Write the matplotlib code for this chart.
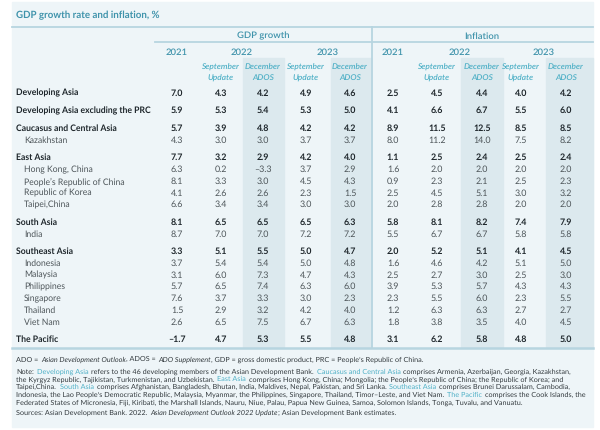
import matplotlib
matplotlib.use("Agg")
import matplotlib.pyplot as plt
from matplotlib.patches import Rectangle

plt.rcParams['font.family'] = ['Lato', 'DejaVu Sans']
plt.rcParams['text.hinting'] = 'no_hinting'

# ---- data ----
title = "GDP growth rate and inflation, %"
groups = ["GDP growth", "Inflation"]
years = ["2021", "2022", "2023"]
sub_left = ["September", "Update"]
sub_right = ["December", "ADOS"]

regions = ["Developing Asia", "Developing Asia excluding the PRC",
           "Caucasus and Central Asia", "Kazakhstan",
           "East Asia", "Hong Kong, China", "People\u2019s Republic of China",
           "Republic of Korea", "Taipei,China",
           "South Asia", "India",
           "Southeast Asia", "Indonesia", "Malaysia", "Philippines",
           "Singapore", "Thailand", "Viet Nam",
           "The Pacific"]
is_group = [1, 1, 1, 0, 1, 0, 0, 0, 0, 1, 0, 1, 0, 0, 0, 0, 0, 0, 1]

gdp_2021 = [7.0, 5.9, 5.7, 4.3, 7.7, 6.3, 8.1, 4.1, 6.6, 8.1, 8.7,
            3.3, 3.7, 3.1, 5.7, 7.6, 1.5, 2.6, -1.7]
gdp_2022_sep = [4.3, 5.3, 3.9, 3.0, 3.2, 0.2, 3.3, 2.6, 3.4, 6.5, 7.0,
                5.1, 5.4, 6.0, 6.5, 3.7, 2.9, 6.5, 4.7]
gdp_2022_dec = [4.2, 5.4, 4.8, 3.0, 2.9, -3.3, 3.0, 2.6, 3.4, 6.5, 7.0,
                5.5, 5.4, 7.3, 7.4, 3.3, 3.2, 7.5, 5.3]
gdp_2023_sep = [4.9, 5.3, 4.2, 3.7, 4.2, 3.7, 4.5, 2.3, 3.0, 6.5, 7.2,
                5.0, 5.0, 4.7, 6.3, 3.0, 4.2, 6.7, 5.5]
gdp_2023_dec = [4.6, 5.0, 4.2, 3.7, 4.0, 2.9, 4.3, 1.5, 3.0, 6.3, 7.2,
                4.7, 4.8, 4.3, 6.0, 2.3, 4.0, 6.3, 4.8]
inf_2021 = [2.5, 4.1, 8.9, 8.0, 1.1, 1.6, 0.9, 2.5, 2.0, 5.8, 5.5,
            2.0, 1.6, 2.5, 3.9, 2.3, 1.2, 1.8, 3.1]
inf_2022_sep = [4.5, 6.6, 11.5, 11.2, 2.5, 2.0, 2.3, 4.5, 2.8, 8.1, 6.7,
                5.2, 4.6, 2.7, 5.3, 5.5, 6.3, 3.8, 6.2]
inf_2022_dec = [4.4, 6.7, 12.5, 14.0, 2.4, 2.0, 2.1, 5.1, 2.8, 8.2, 6.7,
                5.1, 4.2, 3.0, 5.7, 6.0, 6.3, 3.5, 5.8]
inf_2023_sep = [4.0, 5.5, 8.5, 7.5, 2.5, 2.0, 2.5, 3.0, 2.0, 7.4, 5.8,
                4.1, 5.1, 2.5, 4.3, 2.3, 2.7, 4.0, 4.8]
inf_2023_dec = [4.2, 6.0, 8.5, 8.2, 2.4, 2.0, 2.3, 3.2, 2.0, 7.9, 5.8,
                4.5, 5.0, 3.0, 4.3, 5.5, 2.7, 4.5, 5.0]

columns = [gdp_2021, gdp_2022_sep, gdp_2022_dec, gdp_2023_sep, gdp_2023_dec,
           inf_2021, inf_2022_sep, inf_2022_dec, inf_2023_sep, inf_2023_dec]

N, T, I = "n", "t", "i"   # normal, teal highlight, italic
footnotes = [
    [("ADO = ", N), ("Asian Development Outlook", I), (", ADOS = ", N),
     ("ADO Supplement", I),
     (", GDP = gross domestic product, PRC = People\u2019s Republic of China.", N)],
    [("Note: ", N), ("Developing Asia", T),
     (" refers to the 46 developing members of the Asian Development Bank. ", N),
     ("Caucasus and Central Asia", T),
     (" comprises Armenia, Azerbaijan, Georgia, Kazakhstan,", N)],
    [("the Kyrgyz Republic, Tajikistan, Turkmenistan, and Uzbekistan. ", N),
     ("East Asia", T),
     (" comprises Hong Kong, China; Mongolia; the People\u2019s Republic of China; "
      "the Republic of Korea; and", N)],
    [("Taipei,China. ", N), ("South Asia", T),
     (" comprises Afghanistan, Bangladesh, Bhutan, India, Maldives, Nepal, "
      "Pakistan, and Sri Lanka. ", N),
     ("Southeast Asia", T), (" comprises Brunei Darussalam, Cambodia,", N)],
    [("Indonesia, the Lao People\u2019s Democratic Republic, Malaysia, Myanmar, "
      "the Philippines, Singapore, Thailand, Timor\u2013Leste, and Viet Nam. ", N),
     ("The Pacific", T), (" comprises the Cook Islands, the", N)],
    [("Federated States of Micronesia, Fiji, Kiribati, the Marshall Islands, "
      "Nauru, Niue, Palau, Papua New Guinea, Samoa, Solomon Islands, Tonga, "
      "Tuvalu, and Vanuatu.", N)],
    [("Sources: Asian Development Bank. 2022. ", N),
     ("Asian Development Outlook 2022 Update", I),
     ("; Asian Development Bank estimates.", N)],
]

# ---- style ----
TEAL = "#3f93ab"
TEAL_LIGHT = "#4fb0c6"
LINE = "#b7d5e0"
PANEL = "#eef5f8"
SHADE = "#dce9ee"
DARK = "#1e262b"
GREY = "#4d5559"
FOOT = "#333a3e"
FOOT_SIZE = 5.2


def fmt(v):
    return ("\u2013%.1f" % -v) if v < 0 else "%.1f" % v


fig = plt.figure(figsize=(6.0, 4.31), dpi=100)
ax = fig.add_axes([0, 0, 1, 1])
ax.set_xlim(0, 600)
ax.set_ylim(431, 0)
ax.axis("off")

ax.add_patch(Rectangle((12, 3), 581, 425, color=PANEL, zorder=0))

col_x = [177, 221, 263, 306, 350, 393, 437, 482, 521, 566]
shade_spans = [(243, 284), (331, 371), (461, 503), (546, 593)]
for x0, x1 in shade_spans:
    ax.add_patch(Rectangle((x0, 59), x1 - x0, 290, color=SHADE, zorder=1))

# lines
ax.plot([12, 593], [28, 28], color=LINE, lw=1.3, zorder=2)
ax.plot([155, 593], [43, 43], color=LINE, lw=1.3, zorder=2)
ax.plot([372, 372], [28, 349], color=LINE, lw=1.3, zorder=2)
ax.plot([12, 593], [349, 349], color=LINE, lw=1.8, zorder=2)

ax.text(16, 15, title, color=TEAL, fontsize=7.0, fontweight="bold", va="center")

# header
ax.text(263, 36, groups[0], color=TEAL, fontsize=6.8, fontweight="semibold",
        ha="center", va="center")
ax.text(482, 36, groups[1], color=TEAL, fontsize=6.8, fontweight="semibold",
        ha="center", va="center")
for k in range(2):
    c = col_x[5 * k:5 * k + 5]
    ax.text(c[0], 52, years[0], color=TEAL, fontsize=6.8, fontweight="semibold",
            ha="center", va="center")
    ax.text((c[1] + c[2]) / 2, 52, years[1], color=TEAL, fontsize=6.8,
            fontweight="semibold", ha="center", va="center")
    ax.text((c[3] + c[4]) / 2, 52, years[2], color=TEAL, fontsize=6.8,
            fontweight="semibold", ha="center", va="center")
    for j in (1, 3):
        for line, yy in zip(sub_left, (67, 78)):
            ax.text(c[j], yy, line, color=TEAL_LIGHT, fontsize=6.0,
                    style="italic", fontweight="semibold", ha="center", va="center")
    for j in (2, 4):
        for line, yy in zip(sub_right, (67, 78)):
            ax.text(c[j], yy, line, color=TEAL_LIGHT, fontsize=6.0,
                    style="italic", fontweight="semibold", ha="center", va="center")

# body
y = 93.0
for i, name in enumerate(regions):
    if i > 0:
        y += 17.7 if is_group[i] else 11.7
    bold = bool(is_group[i])
    color = DARK if bold else GREY
    weight = "bold" if bold else "normal"
    ax.text(16 if bold else 24, y, name, color=color, fontsize=6.2,
            fontweight=weight, va="center")
    for cx, col in zip(col_x, columns):
        ax.text(cx, y, fmt(col[i]), color=color, fontsize=6.4,
                fontweight=weight, ha="center", va="center")

# footnotes with mixed styles, placed piece by piece
renderer = fig.canvas.get_renderer()
inv = ax.transData.inverted()


def width_of(s):
    t = ax.text(0, 0, s, fontsize=FOOT_SIZE)
    bb = t.get_window_extent(renderer)
    t.remove()
    return bb.width


# ink extents drop side bearings, so pad the measured space a little
space_w = width_of("n n") - width_of("nn") + 1.0

foot_y = [359.5, 371.5, 379.3, 387.1, 394.9, 402.7, 413]
for parts, fy in zip(footnotes, foot_y):
    x = 16
    for s, kind in parts:
        lead = len(s) - len(s.lstrip(" "))
        trail = len(s) - len(s.rstrip(" "))
        x += lead * space_w
        t = ax.text(x, fy, s.strip(" "), fontsize=FOOT_SIZE, va="center",
                    color=TEAL_LIGHT if kind == T else FOOT,
                    style="italic" if kind == I else "normal")
        bb = t.get_window_extent(renderer)
        x = inv.transform((bb.x1, bb.y0))[0] + trail * space_w

fig.savefig("out.png", dpi=100, facecolor="white")
